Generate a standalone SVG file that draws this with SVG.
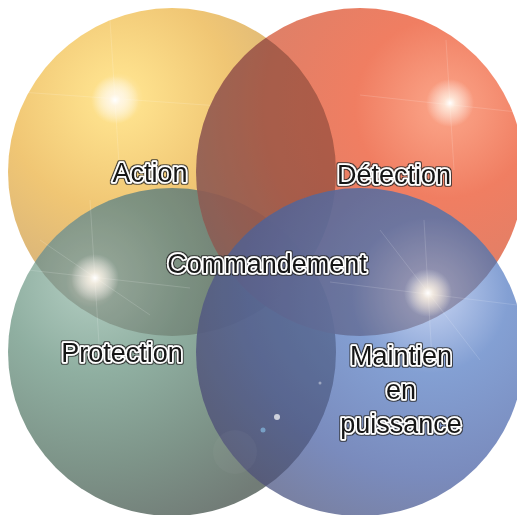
<svg xmlns="http://www.w3.org/2000/svg" width="517" height="515" viewBox="0 0 517 515">
<style>
.lbl{font-family:"Liberation Sans",Arial,sans-serif;font-size:27px;fill:#141414;stroke:#fff;stroke-width:3.4px;paint-order:stroke;stroke-linejoin:round;text-anchor:middle;filter:url(#outline)}
.ray{stroke:#fff;stroke-width:1;fill:none}
.dark{fill:#2a2230}
</style>
<defs>
<radialGradient id="gY" gradientUnits="userSpaceOnUse" cx="118" cy="98" r="250">
<stop offset="0" stop-color="#fff2cc"/>
<stop offset="0.1" stop-color="#fde08c"/>
<stop offset="0.45" stop-color="#f0c674"/>
<stop offset="0.8" stop-color="#d8b47a"/>
<stop offset="1" stop-color="#c2a274"/>
</radialGradient>
<radialGradient id="gR" gradientUnits="userSpaceOnUse" cx="445" cy="108" r="300">
<stop offset="0" stop-color="#fb9a7a"/>
<stop offset="0.3" stop-color="#ee6c4c"/>
<stop offset="0.6" stop-color="#dc6e52"/>
<stop offset="0.85" stop-color="#c07a66"/>
<stop offset="1" stop-color="#a88070"/>
</radialGradient>
<radialGradient id="gG" gradientUnits="userSpaceOnUse" cx="92" cy="282" r="260">
<stop offset="0" stop-color="#dfe6da"/>
<stop offset="0.1" stop-color="#9cbcae"/>
<stop offset="0.35" stop-color="#80a494"/>
<stop offset="0.7" stop-color="#6c8679"/>
<stop offset="1" stop-color="#5e6a64"/>
</radialGradient>
<radialGradient id="gB" gradientUnits="userSpaceOnUse" cx="430" cy="295" r="260">
<stop offset="0" stop-color="#eee6e0"/>
<stop offset="0.08" stop-color="#a8bce6"/>
<stop offset="0.3" stop-color="#6f90cc"/>
<stop offset="0.7" stop-color="#6478b2"/>
<stop offset="1" stop-color="#636a8e"/>
</radialGradient>
<radialGradient id="glow">
<stop offset="0" stop-color="#fff" stop-opacity="1"/>
<stop offset="0.25" stop-color="#fff8ec" stop-opacity="0.75"/>
<stop offset="1" stop-color="#fff" stop-opacity="0"/>
</radialGradient>
<clipPath id="cY"><circle cx="172" cy="172" r="164"/></clipPath>
<clipPath id="cG"><circle cx="172" cy="352" r="164"/></clipPath>
<clipPath id="cR"><circle cx="360" cy="172" r="164"/></clipPath>
<clipPath id="cB"><circle cx="360" cy="352" r="164"/></clipPath>
<clipPath id="cYG"><circle cx="172" cy="172" r="164"/><circle cx="172" cy="352" r="164"/></clipPath>
<clipPath id="cYGR"><circle cx="172" cy="172" r="164"/><circle cx="172" cy="352" r="164"/><circle cx="360" cy="172" r="164"/></clipPath>
<filter id="outline" x="-10%" y="-30%" width="120%" height="160%">
<feMorphology in="SourceAlpha" operator="dilate" radius="0.7" result="d"/>
<feFlood flood-color="#2a2a2a" flood-opacity="0.85"/>
<feComposite in2="d" operator="in" result="o"/>
<feMerge><feMergeNode in="o"/><feMergeNode in="SourceGraphic"/></feMerge>
</filter>
</defs>
<rect width="517" height="515" fill="#fff"/>

<g id="node-action">
<circle cx="172" cy="172" r="164" fill="url(#gY)"/>
<g opacity="0.15"><line class="ray" x1="20" y1="92" x2="220" y2="106"/><line class="ray" x1="110" y1="20" x2="120" y2="180"/></g>
<circle cx="115" cy="100" r="24" fill="url(#glow)"/>
</g>

<g id="node-protection">
<circle cx="172" cy="352" r="164" fill="url(#gG)" fill-opacity="0.88"/>
<g clip-path="url(#cG)"><rect x="0" y="0" width="517" height="515" class="dark" opacity="0.16" clip-path="url(#cY)"/></g>
<g opacity="0.15"><line class="ray" x1="10" y1="268" x2="190" y2="288"/><line class="ray" x1="90" y1="200" x2="100" y2="360"/><line class="ray" x1="40" y1="240" x2="150" y2="315"/></g>
<circle cx="95" cy="278" r="24" fill="url(#glow)"/>
</g>

<g id="node-detection">
<circle cx="360" cy="172" r="164" fill="url(#gR)" fill-opacity="0.88"/>
<g clip-path="url(#cR)"><rect x="0" y="0" width="517" height="515" class="dark" opacity="0.3" clip-path="url(#cYG)"/></g>
<g opacity="0.15"><line class="ray" x1="360" y1="95" x2="517" y2="112"/><line class="ray" x1="446" y1="40" x2="454" y2="170"/></g>
<circle cx="450" cy="103" r="24" fill="url(#glow)"/>
</g>

<g id="node-maintien">
<circle cx="360" cy="352" r="164" fill="url(#gB)" fill-opacity="0.86"/>
<g clip-path="url(#cB)"><rect x="0" y="0" width="517" height="515" class="dark" opacity="0.22" clip-path="url(#cYGR)"/></g>
<g opacity="0.14"><line class="ray" x1="330" y1="282" x2="517" y2="305"/><line class="ray" x1="380" y1="230" x2="480" y2="360"/><line class="ray" x1="424" y1="220" x2="432" y2="360"/></g>
<circle cx="428" cy="293" r="24" fill="url(#glow)"/>
<circle cx="277" cy="417" r="3" fill="#fff" opacity="0.7"/>
<circle cx="263" cy="430" r="2.5" fill="#8cc8f0" opacity="0.6"/>
<circle cx="320" cy="383" r="1.5" fill="#fff" opacity="0.4"/>
<circle cx="235" cy="452" r="22" fill="#fff" opacity="0.03"/>
</g>

<g id="connectors"/>

<g id="labels">
<text id="label-action" class="lbl" x="150" y="182">Action</text>
<text id="label-detection" class="lbl" x="394" y="184">Détection</text>
<text id="label-commandement" class="lbl" x="267" y="273">Commandement</text>
<text id="label-protection" class="lbl" x="122" y="362">Protection</text>
<text id="label-maintien" class="lbl" x="401" y="365"><tspan x="401">Maintien</tspan><tspan x="401" dy="34">en</tspan><tspan x="401" dy="34">puissance</tspan></text>
</g>
</svg>
